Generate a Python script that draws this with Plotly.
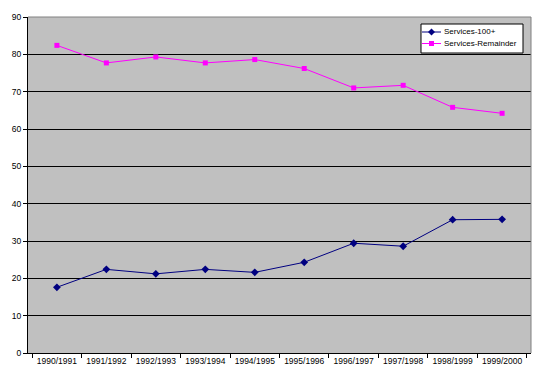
import plotly.graph_objects as go

years = ["1990/1991", "1991/1992", "1992/1993", "1993/1994", "1994/1995",
         "1995/1996", "1996/1997", "1997/1998", "1998/1999", "1999/2000"]
services_100 = [17.6, 22.4, 21.2, 22.4, 21.6, 24.3, 29.4, 28.6, 35.7, 35.8]
services_rem = [82.4, 77.7, 79.3, 77.7, 78.6, 76.2, 71.0, 71.7, 65.8, 64.2]
series_names = ["Services-100+", "Services-Remainder"]
series_colors = ["#000080", "#FF00FF"]

FONT_FAMILY = "Liberation Sans, Arial, sans-serif"
font = dict(family=FONT_FAMILY, size=8.5, color="black")
legend_font = dict(family=FONT_FAMILY, size=8, color="black")

# page body has an 8px default margin; size the figure so the plot lands
# where the reference has it (plot area x 28..531, y 17..353)
W, H = 534, 375
ML, MR, MT, MB = 20, 11, 9, 30
PX0, PY1 = 8 + ML, 8 + H - MB        # plot-area left / bottom in page px
PW, PH = W - ML - MR, H - MT - MB


def xp(px):
    return (px - PX0) / PW


def yp(py):
    return (PY1 - py) / PH


fig = go.Figure()
fig.add_trace(go.Scatter(
    x=years, y=services_100, name=series_names[0], mode="lines+markers",
    line=dict(color=series_colors[0], width=1),
    marker=dict(symbol="diamond", size=6, color=series_colors[0]),
    showlegend=False,
))
fig.add_trace(go.Scatter(
    x=years, y=services_rem, name=series_names[1], mode="lines+markers",
    line=dict(color=series_colors[1], width=1),
    marker=dict(symbol="square", size=5, color=series_colors[1]),
    showlegend=False,
))

fig.update_layout(
    width=W, height=H,
    margin=dict(l=ML, r=MR, t=MT, b=MB),
    paper_bgcolor="white",
    plot_bgcolor="#C0C0C0",
    font=font,
    showlegend=False,
    xaxis=dict(
        type="category", tickson="boundaries", ticks="outside", ticklen=4,
        tickcolor="black", showline=True, linecolor="black", linewidth=1,
        showgrid=False, tickfont=font, zeroline=False, automargin=False,
    ),
    yaxis=dict(
        range=[0, 90], dtick=10, ticks="outside", ticklen=4, tickcolor="black",
        showline=True, linecolor="black", linewidth=1,
        showgrid=True, gridcolor="black", gridwidth=1, zeroline=False,
        tickfont=font, automargin=False,
    ),
)

shapes = [
    # gray border on top and right of plot area
    dict(type="line", xref="paper", yref="paper", x0=0, x1=1, y0=1, y1=1,
         line=dict(color="#808080", width=1)),
    dict(type="line", xref="paper", yref="paper", x0=1, x1=1, y0=0, y1=1,
         line=dict(color="#808080", width=1)),
    # legend box
    dict(type="rect", xref="paper", yref="paper",
         x0=xp(421), x1=xp(523), y0=yp(53), y1=yp(24),
         fillcolor="white", line=dict(color="black", width=1), layer="above"),
]
annotations = []
rows = [32, 43.5]
for i, (name, color) in enumerate(zip(series_names, series_colors)):
    ry = yp(rows[i])
    shapes.append(dict(type="line", xref="paper", yref="paper",
                       x0=xp(422), x1=xp(441), y0=ry, y1=ry,
                       line=dict(color=color, width=1), layer="above"))
    if i == 0:
        shapes.append(dict(type="path", xref="paper", yref="paper",
                           xsizemode="pixel", ysizemode="pixel",
                           xanchor=xp(431.5), yanchor=ry,
                           path="M -3.5 0 L 0 3.5 L 3.5 0 L 0 -3.5 Z",
                           fillcolor=color, line=dict(color=color, width=0),
                           layer="above"))
    else:
        shapes.append(dict(type="rect", xref="paper", yref="paper",
                           xsizemode="pixel", ysizemode="pixel",
                           xanchor=xp(431.5), yanchor=ry,
                           x0=-2.5, x1=2.5, y0=-2.5, y1=2.5,
                           fillcolor=color, line=dict(color=color, width=0),
                           layer="above"))
    annotations.append(dict(xref="paper", yref="paper", x=xp(443), y=ry,
                            xanchor="left", yanchor="middle", showarrow=False,
                            borderpad=0, text=name, font=legend_font))

fig.update_layout(shapes=shapes, annotations=annotations)

fig.write_html("out.html")
